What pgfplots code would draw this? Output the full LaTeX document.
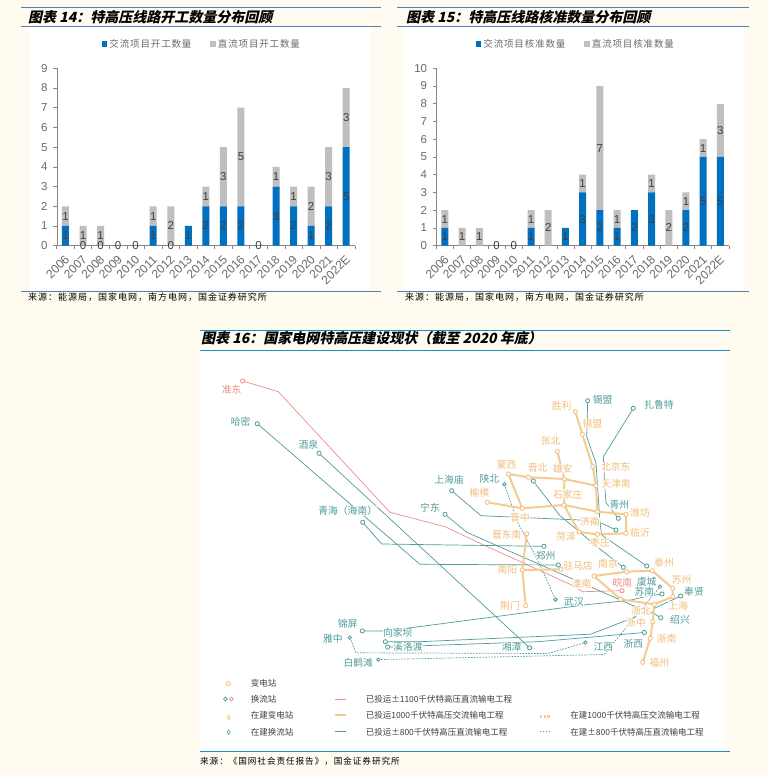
\documentclass[border=0pt]{standalone}
\usepackage{fontspec}
\usepackage{pgfplots}
\pgfplotsset{compat=1.18}
\setmainfont{Liberation Sans}
\newfontfamily\cjk{Noto Sans CJK SC}
\newfontfamily\cjkleg[LetterSpace=9]{Noto Sans CJK SC}
\newfontfamily\cjksrc[LetterSpace=11]{Noto Sans CJK SC}
\newfontfamily\ttl[FakeSlant=0.22]{Noto Sans CJK SC}

\definecolor{paper}{HTML}{FFFBF0}
\definecolor{rule}{HTML}{4F81BD}
\definecolor{rulec}{HTML}{1E8CC8}
\definecolor{acblue}{HTML}{0070C0}
\definecolor{dcgray}{HTML}{BFBFBF}
\definecolor{axgray}{HTML}{868686}
\definecolor{tickgray}{HTML}{6B6B6B}
\definecolor{lblgray}{HTML}{404040}
\definecolor{org}{HTML}{F5CC90}
\definecolor{orgtxt}{HTML}{F2BE78}
\definecolor{teal}{HTML}{4F9C9A}
\definecolor{red}{HTML}{EE8F88}

\pgfplotsset{
  barax/.style={
    scale only axis, width=#1, height=177.4pt,
    ybar stacked, bar width=7pt,
    xmin=-0.5, xmax=16.5, ymin=0,
    axis x line*=bottom, axis y line*=left,
    axis line style={axgray,-},
    tick style={axgray, line width=0.6pt},
    tick align=outside,
    xtick={0,...,16},
    major x tick style={draw=none},
    minor xtick={-0.5,0.5,...,16.5},
    minor tick length=3.5pt, major tick length=3.5pt,
    xticklabels={2006,2007,2008,2009,2010,2011,2012,2013,2014,2015,2016,2017,2018,2019,2020,2021,2022E},
    xticklabel style={xshift=-1.3pt, yshift=-3.7pt, rotate=45, anchor=north east, font=\fontsize{12}{12}\selectfont, text=tickgray, inner sep=1pt},
    yticklabel style={font=\fontsize{11.5}{12}\selectfont, text=tickgray, inner sep=5.5pt},
    /pgf/number format/assume math mode=true,
    legend style={anchor=center, draw=none, fill=none, legend columns=2,
      font=\cjkleg\fontsize{9.5}{10}\selectfont\color{tickgray},
      /tikz/every even column/.append style={column sep=17pt}},
    legend image code/.code={\fill[##1] (0pt,-2.7pt) rectangle (5.5pt,2.8pt);},
  },
  lblax/.style={
    scale only axis, width=#1, height=177.4pt, hide axis,
    xmin=-0.5, xmax=16.5, ymin=0,
  },
  lbls/.style={
    draw=none, mark=none, point meta=explicit,
    nodes near coords,
    nodes near coords align={center},
    every node near coord/.append style={font=\fontsize{11.5}{12}\selectfont, text=lblgray, inner sep=0pt,
      /pgf/number format/assume math mode=true},
  },
  ac/.style={no marks, line width=2pt, color=org, line join=round},
  dc/.style={no marks, line width=0.7pt, color=teal, line join=round},
  dcb/.style={no marks, line width=0.7pt, color=teal, dash pattern=on 1.6pt off 1.3pt, line join=round},
  rd/.style={no marks, line width=0.7pt, color=red, line join=round},
  st/.style={only marks, mark=*, mark size=#1, mark options={fill=white, line width=0.8pt}},
}
\tikzset{
  ml/.style={inner sep=0.3pt, fill=white, fill opacity=0.85, text opacity=1, font=\cjk\fontsize{9.8}{10}\selectfont},
  lg/.style={inner sep=0pt, anchor=west, text=lblgray, font=\cjk\fontsize{8.5}{10}\selectfont},
}

\begin{document}
\begin{tikzpicture}[x=1pt,y=1pt]
% page canvas in reference pixels, y down
\begin{axis}[
  name=page, at={(0pt,0pt)}, anchor=south west,
  scale only axis, width=768pt, height=775pt,
  xmin=0, xmax=768, ymin=0, ymax=775, y dir=reverse,
  hide axis, clip=false,
]
\fill[paper] (axis cs:0,0) rectangle (axis cs:768,775);
\fill[white] (axis cs:30,26) rectangle (axis cs:370,290);
\fill[white] (axis cs:404,26) rectangle (axis cs:744,290);
\fill[white] (axis cs:200,352) rectangle (axis cs:725,750);

\draw[rule, line width=0.8pt] (axis cs:21,7.3) -- (axis cs:381,7.3);
\draw[rule, line width=0.8pt] (axis cs:21,26.3) -- (axis cs:381,26.3);
\draw[rule, line width=0.8pt] (axis cs:21,291) -- (axis cs:381,291);
\draw[rule, line width=0.8pt] (axis cs:397,7.3) -- (axis cs:749,7.3);
\draw[rule, line width=0.8pt] (axis cs:397,26.3) -- (axis cs:749,26.3);
\draw[rule, line width=0.8pt] (axis cs:397,291) -- (axis cs:749,291);
\draw[rulec, line width=0.8pt] (axis cs:200,330) -- (axis cs:730,330);
\draw[rulec, line width=0.8pt] (axis cs:200,350.5) -- (axis cs:730,350.5);
\draw[rulec, line width=0.8pt] (axis cs:200,751.5) -- (axis cs:730,751.5);

\node[anchor=west, inner sep=0pt, font=\ttl\bfseries\fontsize{14}{14}\selectfont] at (axis cs:28,17.5) {图表 14：特高压线路开工数量分布回顾};
\node[anchor=west, inner sep=0pt, font=\ttl\bfseries\fontsize{14}{14}\selectfont] at (axis cs:406,17.5) {图表 15：特高压线路核准数量分布回顾};
\node[anchor=west, inner sep=0pt, font=\ttl\bfseries\fontsize{14}{14}\selectfont] at (axis cs:201,338) {图表 16：国家电网特高压建设现状（截至 2020 年底）};
\node[anchor=west, inner sep=0pt, font=\cjksrc\fontsize{9}{10}\selectfont] at (axis cs:28,297.5) {来源：能源局，国家电网，南方电网，国金证券研究所};
\node[anchor=west, inner sep=0pt, font=\cjksrc\fontsize{9}{10}\selectfont] at (axis cs:405,297.5) {来源：能源局，国家电网，南方电网，国金证券研究所};
\node[anchor=west, inner sep=0pt, font=\cjksrc\fontsize{8.6}{10}\selectfont] at (axis cs:200,761) {来源：《国网社会责任报告》，国金证券研究所};

% DC lines
\addplot[rd] coordinates {(242.7,381) (278.3,391.7) (390,512.3) (445,526.7) (480,543.3) (571.7,585) (582.7,591.7) (622,590.7)};
\addplot[dc] coordinates {(257.3,423.7) (420,564.3) (558.3,565)};
\addplot[dc] coordinates {(319,453.3) (529.6,647.8)};
\addplot[dc] coordinates {(362.7,522.3) (381.7,544) (544,546.3)};
\addplot[dc] coordinates {(451.7,490.7) (481,515.7) (580,520) (601.7,523.3) (616,530)};
\addplot[dc] coordinates {(445,514.3) (466.7,532.3) (631.7,605) (653,613) (660.7,617.7)};
\addplot[dc] coordinates {(633.3,408.3) (603.3,456.7) (605,490) (606,502.7) (618.3,518.3)};
\addplot[dc] coordinates {(587.7,400.7) (586.7,436.7) (596,463.3) (600,523) (601.7,535) (646.7,566)};
\addplot[dc] coordinates {(533.3,481) (559.3,515) (600,549) (623.3,567.3)};
\addplot[dc] coordinates {(362.3,630.9) (382.6,630.9) (413,627.5) (585.4,604.8) (629.3,600.4) (645,596.7) (662,594)};
\addplot[dc] coordinates {(385.3,641.7) (419.7,641.7) (590.5,634.2) (634.4,617.3) (640,613)};
\addplot[dc] coordinates {(387.6,647.1) (423,645.7) (538,641.7) (644.4,632.5)};
\addplot[dc] coordinates {(680.7,596) (654.3,608.3) (653,615)};
\addplot[dcb] coordinates {(504.3,484.3) (518,523) (536.7,558) (546.7,580) (555.5,599.5)};
\addplot[dcb] coordinates {(349.8,637.6) (356.2,652.8) (548.2,653.5) (585.4,642.5)};
\addplot[dcb] coordinates {(378.2,659.6) (604,654.5) (660,586.7)};

% AC lines
\addplot[ac] coordinates {(575.3,411.7) (582.3,434.3) (592.7,466.7) (596,485.7) (597.3,511.7) (626,514.3) (626,533.3) (597.3,534.3) (579,532) (564,505) (597.3,511.7)};
\addplot[ac] coordinates {(557.3,451.3) (564.3,479) (564,505)};
\addplot[ac] coordinates {(508.3,474) (528.3,477.3) (564.3,479) (596,485.7)};
\addplot[ac] coordinates {(508.3,474) (522.3,508.3)};
\addplot[ac] coordinates {(487.3,502.3) (522.3,508.3) (564,505)};
\addplot[ac] coordinates {(526.7,533.7) (522.3,570) (525.7,605.7)};
\addplot[ac] coordinates {(522.3,570) (561,569.3)};
\addplot[ac] coordinates {(594,576) (626.7,571.7) (652.3,570.7) (672.7,588.3) (672.7,596.7) (654.3,604.3) (620.7,599.3) (594,576)};
\addplot[ac] coordinates {(654.3,604.3) (652.7,621.7) (650.3,638.3) (642.7,662.3)};

% legend keys of the map
\addplot[rd] coordinates {(335.2,699.1) (346.4,699.1)};
\addplot[ac, line width=2pt] coordinates {(335.2,714.7) (346.4,714.7)};
\addplot[dc] coordinates {(335.2,731.6) (346.4,731.6)};
\addplot[ac, line width=3pt, dash pattern=on 2.2pt off 1.6pt] coordinates {(539.8,716) (550.6,716)};
\addplot[dcb, line width=0.6pt] coordinates {(539.8,731.6) (550.6,731.6)};

% labels, they break the lines beneath
\node[ml, text=red] at (axis cs:231.7,390) {准东};
\node[ml, text=red] at (axis cs:622.3,582.3) {皖南};
\node[ml, text=teal] at (axis cs:240.7,421.7) {哈密};
\node[ml, text=teal] at (axis cs:308.3,444.3) {酒泉};
\node[ml, text=teal] at (axis cs:347.7,511) {青海（海南）};
\node[ml, text=teal] at (axis cs:449,480) {上海庙};
\node[ml, text=teal] at (axis cs:430,507.7) {宁东};
\node[ml, text=teal] at (axis cs:602.7,400) {锡盟};
\node[ml, text=teal] at (axis cs:659,405) {扎鲁特};
\node[ml, text=teal] at (axis cs:489.3,479) {陕北};
\node[ml, text=teal] at (axis cs:619.3,505) {青州};
\node[ml, text=teal] at (axis cs:545.7,555.7) {郑州};
\node[ml, text=teal] at (axis cs:574,601.7) {武汉};
\node[ml, text=teal] at (axis cs:646.7,581.7) {虞城};
\node[ml, text=teal] at (axis cs:644.3,591.7) {苏南};
\node[ml, text=teal] at (axis cs:694,592) {奉贤};
\node[ml, text=teal] at (axis cs:680,619.3) {绍兴};
\node[ml, text=teal] at (axis cs:633.3,643.3) {浙西};
\node[ml, text=teal] at (axis cs:603.3,646.7) {江西};
\node[ml, text=teal] at (axis cs:347.7,623.4) {锦屏};
\node[ml, text=teal] at (axis cs:397.8,632.5) {向家坝};
\node[ml, text=teal] at (axis cs:332.9,638.6) {雅中};
\node[ml, text=teal] at (axis cs:407.9,646.4) {溪洛渡};
\node[ml, text=teal] at (axis cs:511.7,647) {湘潭};
\node[ml, text=teal] at (axis cs:358.2,663) {白鹤滩};
\node[ml, text=orgtxt] at (axis cs:561.7,406) {胜利};
\node[ml, text=orgtxt] at (axis cs:592.3,423.3) {锡盟};
\node[ml, text=orgtxt] at (axis cs:550.7,441) {张北};
\node[ml, text=orgtxt] at (axis cs:506.7,465) {蒙西};
\node[ml, text=orgtxt] at (axis cs:537.7,468.3) {晋北};
\node[ml, text=orgtxt] at (axis cs:562.7,469) {雄安};
\node[ml, text=orgtxt] at (axis cs:615.7,466.7) {北京东};
\node[ml, text=orgtxt] at (axis cs:616,484) {天津南};
\node[ml, text=orgtxt] at (axis cs:479.3,492.7) {榆横};
\node[ml, text=orgtxt] at (axis cs:567.7,494.3) {石家庄};
\node[ml, text=orgtxt] at (axis cs:640,512.7) {潍坊};
\node[ml, text=orgtxt] at (axis cs:640,532.7) {临沂};
\node[ml, text=orgtxt] at (axis cs:520,517.3) {晋中};
\node[ml, text=orgtxt] at (axis cs:590,521.7) {济南};
\node[ml, text=orgtxt] at (axis cs:566,536.7) {菏泽};
\node[ml, text=orgtxt] at (axis cs:600,542.7) {枣庄};
\node[ml, text=orgtxt] at (axis cs:506.7,534.7) {晋东南};
\node[ml, text=orgtxt] at (axis cs:507.3,570) {南阳};
\node[ml, text=orgtxt] at (axis cs:510,605.7) {荆门};
\node[ml, text=orgtxt] at (axis cs:578,566) {驻马店};
\node[ml, text=orgtxt] at (axis cs:608,564) {南京};
\node[ml, text=orgtxt] at (axis cs:664,562.7) {泰州};
\node[ml, text=orgtxt] at (axis cs:681.7,579.3) {苏州};
\node[ml, text=orgtxt] at (axis cs:581.7,584) {淮南};
\node[ml, text=orgtxt] at (axis cs:678,605.3) {上海};
\node[ml, text=orgtxt] at (axis cs:641,611) {浙北};
\node[ml, text=orgtxt] at (axis cs:636,622.7) {浙中};
\node[ml, text=orgtxt] at (axis cs:666.7,638.3) {浙南};
\node[ml, text=orgtxt] at (axis cs:659.3,662.3) {福州};

% stations
\addplot[st=2.1, orgtxt] coordinates {(575.3,411.7) (582.3,434.3) (592.7,466.7) (596,485.7) (597.3,511.7) (626,514.3) (626,533.3) (597.3,534.3) (579,532) (564,505) (557.3,451.3) (564.3,479) (508.3,474) (528.3,477.3) (522.3,508.3) (487.3,502.3) (526.7,533.7) (522.3,570) (525.7,605.7) (561,569.3) (594,576) (626.7,571.7) (652.3,570.7) (672.7,588.3) (672.7,596.7) (654.3,604.3) (620.7,599.3) (652.7,621.7) (650.3,638.3) (642.7,662.3)};
\addplot[st=2.1, teal] coordinates {(257.3,423.7) (319,453.3) (362.7,522.3) (451.7,490.7) (445,514.3) (587.7,400.7) (633.3,408.3) (533.3,481) (618.3,518.3) (616,530) (544,546.3) (558.3,565) (623.3,567.3) (646.7,566) (529.6,647.8) (362.3,630.9) (385.3,641.7) (387.6,647.1) (662,594) (680.7,596) (660.7,617.7) (644.4,632.5)};
\addplot[st=2.1, red] coordinates {(242.7,381) (622,590.7)};
\addplot[st=1.7, teal] coordinates {(504.3,484.3) (555.5,599.5) (349.8,637.6) (378.2,659.6) (585.4,642.5) (660,586.7)};

% map legend
\addplot[st=2, orgtxt] coordinates {(228.4,683.6)};
\addplot[st=1.9, teal] coordinates {(225.4,699.1)};
\addplot[st=1.9, red] coordinates {(231.4,699.1)};
\addplot[only marks, mark=diamond*, mark size=2.2, mark options={fill=white, line width=0.6pt}, orgtxt] coordinates {(228.7,717.4)};
\addplot[only marks, mark=diamond*, mark size=2.2, mark options={fill=white, line width=0.6pt}, teal] coordinates {(228.7,732.3)};
\node[lg] at (axis cs:250.7,682.9) {变电站};
\node[lg] at (axis cs:250.7,699.1) {换流站};
\node[lg] at (axis cs:250.7,715.4) {在建变电站};
\node[lg] at (axis cs:250.7,732.3) {在建换流站};
\node[lg] at (axis cs:365.6,699.1) {已投运±1100千伏特高压直流输电工程};
\node[lg] at (axis cs:365.6,715.4) {已投运1000千伏特高压交流输电工程};
\node[lg] at (axis cs:365.6,732.3) {已投运±800千伏特高压直流输电工程};
\node[lg] at (axis cs:570.2,715.4) {在建1000千伏特高压交流输电工程};
\node[lg] at (axis cs:570.2,732.3) {在建±800千伏特高压直流输电工程};
\end{axis}

% chart 14
\begin{axis}[
  barax=298.3pt, at={(56.7pt,529.3pt)}, anchor=south west,
  ymax=9, ytick={0,...,9},
  legend style={at={(0.487,1.137)}},
]
\addplot[fill=acblue, draw=none] coordinates {(0,1) (1,0) (2,0) (3,0) (4,0) (5,1) (6,0) (7,1) (8,2) (9,2) (10,2) (11,0) (12,3) (13,2) (14,1) (15,2) (16,5)};
\addplot[fill=dcgray, draw=none] coordinates {(0,1) (1,1) (2,1) (3,0) (4,0) (5,1) (6,2) (7,0) (8,1) (9,3) (10,5) (11,0) (12,1) (13,1) (14,2) (15,3) (16,3)};
\legend{交流项目开工数量,直流项目开工数量}
\end{axis}
\begin{axis}[
  lblax=298.3pt, at={(56.7pt,529.3pt)}, anchor=south west, ymax=9,
]
\addplot[lbls] coordinates {(0,0.5)[1] (1,0)[0] (2,0)[0] (3,0)[0] (4,0)[0] (5,0.5)[1] (6,0)[0] (7,0.5)[1] (8,1)[2] (9,1)[2] (10,1)[2] (11,0)[0] (12,1.5)[3] (13,1)[2] (14,0.5)[1] (15,1)[2] (16,2.5)[5]};
\addplot[lbls] coordinates {(0,1.5)[1] (1,0.5)[1] (2,0.5)[1] (5,1.5)[1] (6,1)[2] (8,2.5)[1] (9,3.5)[3] (10,4.5)[5] (12,3.5)[1] (13,2.5)[1] (14,2)[2] (15,3.5)[3] (16,6.5)[3]};
\end{axis}

% chart 15
\begin{axis}[
  barax=292.7pt, at={(436.3pt,529.3pt)}, anchor=south west,
  ymax=10, ytick={0,...,10},
  legend style={at={(0.477,1.137)}},
]
\addplot[fill=acblue, draw=none] coordinates {(0,1) (1,0) (2,0) (3,0) (4,0) (5,1) (6,0) (7,1) (8,3) (9,2) (10,1) (11,2) (12,3) (13,0) (14,2) (15,5) (16,5)};
\addplot[fill=dcgray, draw=none] coordinates {(0,1) (1,1) (2,1) (3,0) (4,0) (5,1) (6,2) (7,0) (8,1) (9,7) (10,1) (11,0) (12,1) (13,2) (14,1) (15,1) (16,3)};
\legend{交流项目核准数量,直流项目核准数量}
\end{axis}
\begin{axis}[
  lblax=292.7pt, at={(436.3pt,529.3pt)}, anchor=south west, ymax=10,
]
\addplot[lbls] coordinates {(0,0.5)[1] (3,0)[0] (4,0)[0] (5,0.5)[1] (7,0.5)[1] (8,1.5)[3] (9,1)[2] (10,0.5)[1] (11,1)[2] (12,1.5)[3] (14,1)[2] (15,2.5)[5] (16,2.5)[5]};
\addplot[lbls] coordinates {(0,1.5)[1] (1,0.5)[1] (2,0.5)[1] (5,1.5)[1] (6,1)[2] (8,3.5)[1] (9,5.5)[7] (10,1.5)[1] (12,3.5)[1] (13,1)[2] (14,2.5)[1] (15,5.5)[1] (16,6.5)[3]};
\end{axis}
\end{tikzpicture}
\end{document}
